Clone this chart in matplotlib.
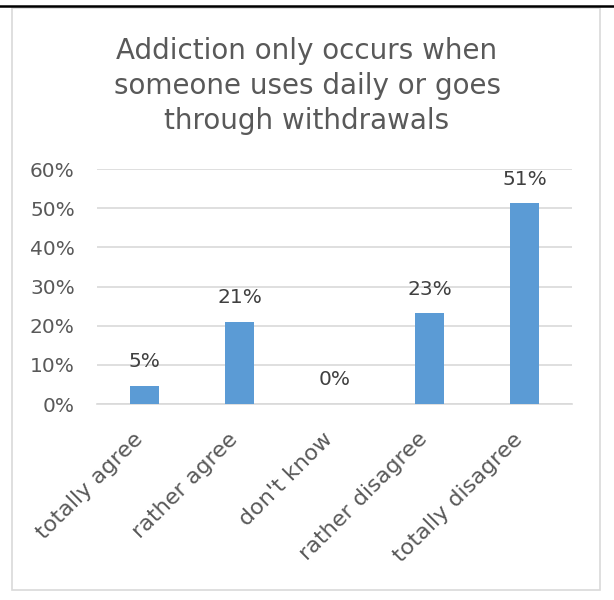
import matplotlib
matplotlib.use("Agg")
import matplotlib.pyplot as plt
from matplotlib.patches import Rectangle
from matplotlib.lines import Line2D
from matplotlib.transforms import ScaledTranslation

categories = ["totally agree", "rather agree", "don't know", "rather disagree", "totally disagree"]
values = [0.046, 0.21, 0.0, 0.232, 0.512]
value_labels = ["5%", "21%", "0%", "23%", "51%"]
yticks = [0, 0.1, 0.2, 0.3, 0.4, 0.5, 0.6]
ytick_labels = ["0%", "10%", "20%", "30%", "40%", "50%", "60%"]
title = "Addiction only occurs when\nsomeone uses daily or goes\nthrough withdrawals"

plt.rcParams['font.family'] = ['DejaVu Sans']
gray = "#595959"

W, H = 614, 600
fig = plt.figure(figsize=(W/100, H/100), dpi=100)
fig.patch.set_facecolor("white")

# outer border and top line
fig.add_artist(Rectangle((12/W, 1-590/H), (600-12)/W, (590-8)/H, transform=fig.transFigure,
                         fill=False, edgecolor="#d9d9d9", linewidth=1.2))
fig.add_artist(Line2D([0, 1], [1-6/H, 1-6/H], transform=fig.transFigure, color="black", linewidth=1.8))

ax = fig.add_axes([97/W, 1-404/H, (572-97)/W, (404-169)/H])
x = list(range(len(categories)))
ax.bar(x, values, width=0.31, color="#5b9bd5", zorder=3)
ax.set_xlim(-0.5, len(categories)-0.5)
ax.set_ylim(0, 0.6)
ax.set_yticks(yticks)
ax.set_yticklabels(ytick_labels)
ax.set_xticks(x)
ax.set_xticklabels(categories, rotation=45, ha="right", va="center", rotation_mode="anchor")
ax.tick_params(axis="both", length=0, colors=gray, labelsize=14.5)
ax.tick_params(axis="x", labelsize=16)
ax.tick_params(axis="y", pad=16)
ax.tick_params(axis="x", pad=8)
off = ScaledTranslation(-5/100, -21/100, fig.dpi_scale_trans)
for lab in ax.get_xticklabels():
    lab.set_transform(lab.get_transform() + off)
ax.grid(axis="y", color="#d9d9d9", linewidth=1.2, zorder=0)
for s in ["top", "right", "left"]:
    ax.spines[s].set_visible(False)
ax.spines["bottom"].set_color("#d9d9d9")
ax.spines["bottom"].set_linewidth(1.2)

for xi, v, lab in zip(x, values, value_labels):
    ax.annotate(lab, (xi, v), xytext=(0, 10.5), textcoords="offset points",
                ha="center", va="bottom", color="#404040", fontsize=14.5)

fig.text(0.5, 1-86/H, title, ha="center", va="center", color=gray, fontsize=20,
         linespacing=1.32)

fig.savefig("out.png", dpi=100)
